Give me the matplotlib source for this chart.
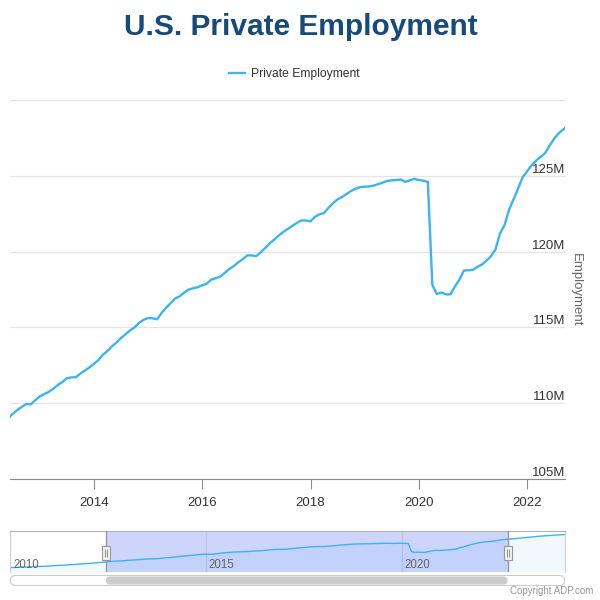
import numpy as np
import matplotlib
matplotlib.use("Agg")
import matplotlib.pyplot as plt
from matplotlib.path import Path
from matplotlib.patches import FancyBboxPatch
from matplotlib.transforms import blended_transform_factory

plt.rcParams['font.family'] = ['Liberation Sans', 'DejaVu Sans']

# Emprego privado mensal (milhoes), jan/2010 a mar/2024
emp_2010 = [104.5, 104.5, 104.6, 104.8, 104.9, 105.0, 105.1, 105.2, 105.3, 105.4, 105.5, 105.6]
emp_2011 = [105.7, 105.9, 106.1, 106.3, 106.4, 106.6, 106.8, 106.9, 107.1, 107.3, 107.5, 107.7]
emp_2012 = [107.9, 108.1, 108.3, 108.5, 108.8, 109.0, 109.3, 109.55, 109.75, 109.95, 109.92, 110.2]
emp_2013 = [110.45, 110.6, 110.75, 110.95, 111.2, 111.4, 111.65, 111.7, 111.72, 111.95, 112.15, 112.36]
emp_2014 = [112.6, 112.85, 113.2, 113.45, 113.75, 114.0, 114.3, 114.55, 114.8, 115.0, 115.3, 115.5]
emp_2015 = [115.62, 115.6, 115.54, 115.95, 116.3, 116.6, 116.9, 117.05, 117.3, 117.5, 117.58, 117.65]
emp_2016 = [117.78, 117.88, 118.15, 118.25, 118.35, 118.6, 118.85, 119.05, 119.3, 119.5, 119.75, 119.75]
emp_2017 = [119.7, 119.97, 120.25, 120.56, 120.8, 121.07, 121.3, 121.5, 121.7, 121.9, 122.06, 122.05]
emp_2018 = [122.0, 122.3, 122.46, 122.55, 122.9, 123.2, 123.45, 123.6, 123.8, 124.0, 124.15, 124.25]
emp_2019 = [124.28, 124.3, 124.35, 124.45, 124.55, 124.66, 124.7, 124.72, 124.75, 124.6, 124.7, 124.8]
emp_2020 = [124.72, 124.68, 124.6, 117.8, 117.2, 117.3, 117.18, 117.18, 117.7, 118.15, 118.75, 118.77]
emp_2021 = [118.8, 119.0, 119.15, 119.4, 119.7, 120.15, 121.2, 121.75, 122.75, 123.45, 124.15, 124.9]
emp_2022 = [125.3, 125.7, 126.0, 126.25, 126.5, 127.0, 127.45, 127.8, 128.05, 128.3, 128.5, 128.7]
emp_2023 = [129.0, 129.3, 129.5, 129.8, 130.0, 130.3, 130.6, 130.8, 131.0, 131.2, 131.4, 131.6]
emp_2024 = [131.8, 131.95, 132.1]

first_year = 2010
sel_start = 2012.45
sel_end = 2022.70

y_ticks = [105, 110, 115, 120, 125, 130]
y_labels = ['105M', '110M', '115M', '120M', '125M', '']
x_ticks = [2014, 2016, 2018, 2020, 2022]
nav_ticks = [2010, 2015, 2020]

values = np.array(emp_2010 + emp_2011 + emp_2012 + emp_2013 + emp_2014 + emp_2015 + emp_2016
                  + emp_2017 + emp_2018 + emp_2019 + emp_2020 + emp_2021 + emp_2022 + emp_2023 + emp_2024)
dates = first_year + np.arange(len(values)) / 12.0

line_color = '#3db2f5'
text_color = '#333333'

fig = plt.figure(figsize=(6, 6), dpi=100)

# Titulo e legenda
fig.text(0.502, 1 - 35 / 600, 'U.S. Private Employment', ha='center', va='baseline',
         fontsize=21.5, fontweight='bold', color='#174a7c')

# Grafico principal
ax = fig.add_axes([10 / 600, 1 - 479 / 600, 555 / 600, 379 / 600])
ax.plot(dates, values, color=line_color, lw=1.7, label='Private Employment')
ax.set_xlim(sel_start, sel_end)
ax.set_ylim(105, 130)
ax.set_yticks(y_ticks)
ax.set_yticklabels(y_labels)
ax.set_xticks(x_ticks)
ax.set_xticklabels([str(t) for t in x_ticks])
ax.grid(axis='y', color='#e6e6e6', lw=1)
ax.set_axisbelow(True)
for side in ['top', 'left', 'right']:
    ax.spines[side].set_visible(False)
ax.spines['bottom'].set_color('#8c8c8c')
ax.tick_params(axis='x', direction='out', length=7.2, width=0.8, color='#8c8c8c',
               labelsize=9.5, labelcolor=text_color, pad=5.5)
ax.tick_params(axis='y', left=False, right=False, labelleft=False, labelright=True,
               labelsize=9.5, labelcolor=text_color, pad=-3.5)
for lab in ax.get_yticklabels():
    lab.set_horizontalalignment('right')
    lab.set_verticalalignment('bottom')
ax.text(1 + 11 / 555, 0.5, 'Employment', rotation=270, transform=ax.transAxes,
        ha='center', va='center', fontsize=9.5, color='#666666')

leg = ax.legend(loc='center', bbox_to_anchor=(0.49, 1 - 74 / 600), bbox_transform=fig.transFigure,
                frameon=False, fontsize=8.7, handlelength=1.3, handletextpad=0.5)
for t in leg.get_texts():
    t.set_color(text_color)

# Navegador
nav = fig.add_axes([10 / 600, 1 - 571.7 / 600, 555 / 600, 40.7 / 600])
nav.fill_between(dates, values, 101, color=line_color, alpha=0.07, lw=0)
nav.plot(dates, values, color=line_color, lw=1)
nav.set_xlim(dates[0], dates[-1])
nav.set_ylim(101, 135)
nav.set_xticks([])
nav.set_yticks([])
for t in nav_ticks:
    nav.axvline(t, color='#e6e6e6', lw=1, zorder=0)
    nav.annotate(str(t), xy=(t, 0), xycoords=blended_transform_factory(nav.transData, nav.transAxes),
                 xytext=(3, 4), textcoords='offset pixels', fontsize=8.3, color='#666666')
nav.axvspan(sel_start, sel_end, color='#5f76f2', alpha=0.3, lw=0, zorder=0.5)
nav.spines['bottom'].set_visible(False)
nav.spines['top'].set_color('#b3b3b3')
nav.spines['left'].set_color('#d0d0d0')
nav.spines['right'].set_color('#d0d0d0')
for s in [sel_start, sel_end]:
    nav.axvline(s, color='#999999', lw=1, zorder=3)

# alcas do navegador
handle_path = Path([(-4, -7), (4, -7), (4, 7), (-4, 7), (-4, -7),
                    (-1, -4), (-1, 4), (1, -4), (1, 4)],
                   [Path.MOVETO, Path.LINETO, Path.LINETO, Path.LINETO, Path.CLOSEPOLY,
                    Path.MOVETO, Path.LINETO, Path.MOVETO, Path.LINETO])
nav.plot([sel_start, sel_end], [0.46, 0.46], ls='none', marker=handle_path, markersize=10,
         markerfacecolor='#f2f2f2', markeredgecolor='#999999', markeredgewidth=0.8,
         transform=blended_transform_factory(nav.transData, nav.transAxes),
         clip_on=False, zorder=5)

# Barra de rolagem
sb = fig.add_axes([10 / 600, 1 - 586 / 600, 555 / 600, 11 / 600])
sb.set_xlim(0, 555)
sb.set_ylim(0, 11)
sb.axis('off')
sb.add_patch(FancyBboxPatch((0.5, 0.5), 554, 10, boxstyle='round,pad=0,rounding_size=5',
                            fc='white', ec='#cccccc', lw=0.8))
span = dates[-1] - dates[0]
x0 = (sel_start - dates[0]) / span * 555
x1 = (sel_end - dates[0]) / span * 555
sb.add_patch(FancyBboxPatch((x0, 1.5), x1 - x0, 8, boxstyle='round,pad=0,rounding_size=4',
                            fc='#cccccc', ec='none'))

fig.text(593 / 600, 1 - 594.5 / 600, 'Copyright ADP.com', ha='right', va='baseline',
         fontsize=7, color='#999999')

fig.savefig('out.png', dpi=100)
